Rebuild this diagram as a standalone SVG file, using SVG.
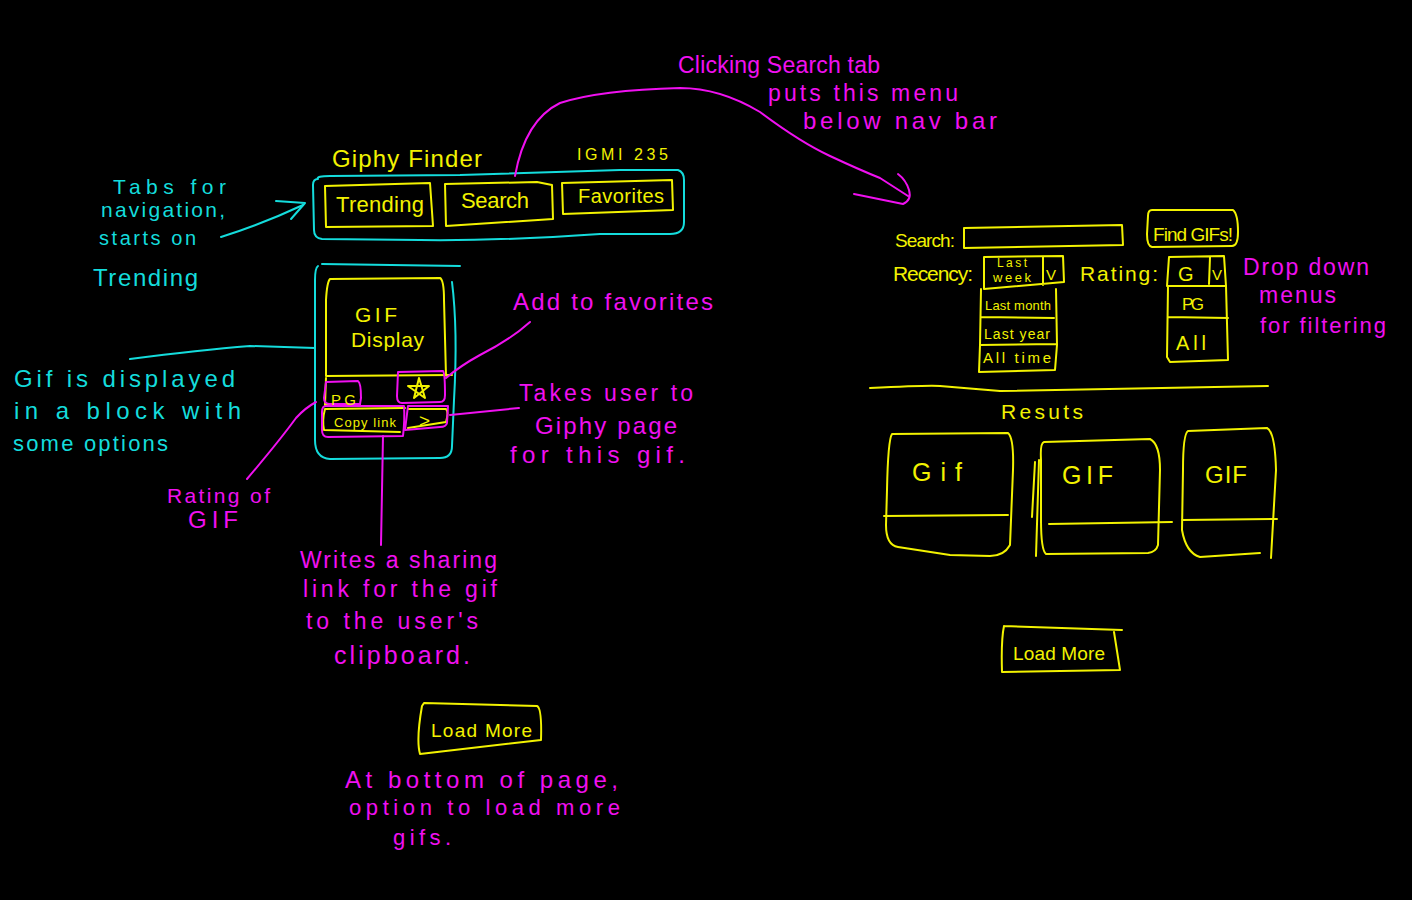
<svg xmlns="http://www.w3.org/2000/svg" width="1412" height="900" viewBox="0 0 1412 900">
<style>
.y{stroke:#f2f200;fill:none;stroke-width:2;stroke-linecap:round;stroke-linejoin:round}
.c{stroke:#14dcdc;fill:none;stroke-width:2;stroke-linecap:round;stroke-linejoin:round}
.m{stroke:#f010f0;fill:none;stroke-width:2;stroke-linecap:round;stroke-linejoin:round}
text{font-family:"Liberation Sans","DejaVu Sans",sans-serif}
.ty{fill:#f2f200}
.tc{fill:#14dcdc}
.tm{fill:#f010f0}
</style>
<rect x="0" y="0" width="1412" height="900" fill="#000"/>

<!-- left mockup -->
<g id="title">
<text class="ty" x="332" y="167" font-size="24" textLength="150">Giphy Finder</text>
<text class="ty" x="577" y="160" font-size="16" textLength="91">IGMI 235</text>
</g>
<g id="navbar">
<path class="c" d="M318,179 Q316,176 330,176 L460,175 Q560,172 620,170 L678,170 Q684,172 684,180 L684,222 Q684,234 670,234 L600,234 Q500,241 420,240 L322,239 Q314,238 314,230 L313,185 Q313,179 318,179 Z"/>
</g>
<g id="tab-trending">
<path class="y" d="M325,186 L430,183 L433,226 L326,227 Z"/>
<text class="ty" x="336" y="212" font-size="22" textLength="88">Trending</text>
</g>
<g id="tab-search">
<path class="y" d="M445,184 L537,182 L552,185 L553,219 L446,226 Z"/>
<text class="ty" x="461" y="208" font-size="22" textLength="68">Search</text>
</g>
<g id="tab-favorites">
<path class="y" d="M562,183 L672,180 L673,210 L563,214 Z"/>
<text class="ty" x="578" y="203" font-size="20" textLength="86">Favorites</text>
</g>

<g id="gif-card">
<path class="c" d="M322,264 L460,266 M318,266 Q315,268 315,280 L315,440 Q315,458 330,459 L440,458 Q452,458 452,446 L454,400 Q458,330 452,282"/>
<path class="y" d="M330,279 L440,278 Q444,280 444,300 L446,376 M330,279 Q327,282 326,300 L326,376 L452,375"/>
<text class="ty" x="355" y="322" font-size="21" textLength="42">GIF</text>
<text class="ty" x="351" y="347" font-size="21" textLength="73">Display</text>
</g>
<g id="pg-badge">
<path class="y" d="M326,378 L325,405 L360,404"/>
<path class="m" d="M326,382 L358,381 Q361,383 361,398 L360,404 L330,404 Q324,404 324,398 Z"/>
<text class="ty" x="331" y="405" font-size="15" textLength="25">PG</text>
</g>
<g id="fav-button">
<path class="m" d="M398,372 L443,371 Q445,373 445,395 Q445,402 440,402 L402,403 Q397,403 397,396 Z"/>
<path class="y" d="M419,378 L414,398 L429,386 L408,386 L425,398 Z"/>
</g>
<g id="copy-link">
<path class="y" d="M325,409 L405,408 M325,409 Q322,420 324,430 L400,432"/>
<path class="m" d="M326,406 L404,406 Q405,420 403,436 L328,437 Q322,437 322,430 L322,412 Q322,406 326,406 Z"/>
<text class="ty" x="334" y="427" font-size="13" textLength="62">Copy link</text>
</g>
<g id="giphy-link">
<path class="y" d="M408,409 L446,409 Q449,412 446,422 L408,428"/>
<path class="m" d="M408,406 L448,406 L447,423 Q446,427 440,427 L405,430 Z"/>
<text class="ty" x="419" y="427" font-size="19">&gt;</text>
</g>

<g id="load-more-left">
<path class="y" d="M424,703 L537,706 Q542,708 541,740 L420,754 Q416,740 422,706 Z"/>
<text class="ty" x="431" y="737" font-size="19" textLength="101">Load More</text>
</g>

<!-- annotations left -->
<g id="note-tabs">
<text class="tc" x="113" y="194" font-size="21" textLength="113">Tabs for</text>
<text class="tc" x="101" y="217" font-size="21" textLength="124">navigation,</text>
<text class="tc" x="99" y="245" font-size="20" textLength="97">starts on</text>
<text class="tc" x="93" y="286" font-size="24" textLength="105">Trending</text>
</g>
<g id="note-gif-block">
<text class="tc" x="14" y="387" font-size="24" textLength="221">Gif is displayed</text>
<text class="tc" x="14" y="419" font-size="24" textLength="227">in a block with</text>
<text class="tc" x="13" y="451" font-size="22" textLength="155">some options</text>
</g>
<g id="note-rating">
<text class="tm" x="167" y="503" font-size="21" textLength="103">Rating of</text>
<text class="tm" x="188" y="528" font-size="24" textLength="50">GIF</text>
</g>
<g id="note-copy">
<text class="tm" x="300" y="568" font-size="23" textLength="197">Writes a sharing</text>
<text class="tm" x="303" y="597" font-size="23" textLength="194">link for the gif</text>
<text class="tm" x="306" y="629" font-size="23" textLength="172">to the user's</text>
<text class="tm" x="334" y="664" font-size="25" textLength="136">clipboard.</text>
</g>
<g id="note-favorites">
<text class="tm" x="513" y="310" font-size="24" textLength="200">Add to favorites</text>
</g>
<g id="note-giphy">
<text class="tm" x="519" y="401" font-size="23" textLength="174">Takes user to</text>
<text class="tm" x="535" y="434" font-size="24" textLength="142">Giphy page</text>
<text class="tm" x="510" y="463" font-size="24" textLength="175">for this gif.</text>
</g>
<g id="note-loadmore">
<text class="tm" x="345" y="788" font-size="24" textLength="273">At bottom of page,</text>
<text class="tm" x="349" y="815" font-size="22" textLength="271">option to load more</text>
<text class="tm" x="393" y="845" font-size="22" textLength="58">gifs.</text>
</g>
<g id="note-search">
<text class="tm" x="678" y="73" font-size="23" textLength="202">Clicking Search tab</text>
<text class="tm" x="768" y="101" font-size="23" textLength="190">puts this menu</text>
<text class="tm" x="803" y="129" font-size="24" textLength="194">below nav bar</text>
</g>

<!-- right mockup -->
<g id="search-field">
<text class="ty" x="895" y="247" font-size="19" textLength="60">Search:</text>
<path class="y" d="M964,228 L1122,225 L1123,245 L964,248 Z"/>
</g>
<g id="find-button">
<path class="y" d="M1152,210 L1233,210 Q1238,214 1238,232 Q1238,246 1232,246 L1152,247 Q1147,246 1147,234 L1148,216 Q1148,210 1152,210 Z"/>
<text class="ty" x="1153" y="241" font-size="19" textLength="80">Find GIFs!</text>
</g>
<g id="recency-dropdown">
<text class="ty" x="893" y="281" font-size="21" textLength="80">Recency:</text>
<path class="y" d="M984,257 L1063,256 L1064,282 L984,289 Z M1043,257 L1043,285"/>
<text class="ty" x="997" y="267" font-size="12" textLength="30">Last</text>
<text class="ty" x="993" y="282" font-size="13" textLength="38">week</text>
<text class="ty" x="1046" y="280" font-size="15">V</text>
<path class="y" d="M981,289 L980,345 L979,372 L1055,370 L1057,345 L1056,289 M981,317 L1054,318 M980,345 L1057,344"/>
<text class="ty" x="985" y="310" font-size="13" textLength="66">Last month</text>
<text class="ty" x="984" y="339" font-size="14" textLength="66">Last year</text>
<text class="ty" x="983" y="363" font-size="15" textLength="68">All time</text>
</g>
<g id="rating-dropdown">
<text class="ty" x="1080" y="281" font-size="21" textLength="78">Rating:</text>
<path class="y" d="M1169,257 L1224,256 L1226,286 L1167,286 Z M1210,257 L1209,284"/>
<text class="ty" x="1178" y="281" font-size="20">G</text>
<text class="ty" x="1212" y="280" font-size="15">V</text>
<path class="y" d="M1168,286 L1167,357 L1170,362 L1228,360 L1226,286 M1168,317 L1228,318"/>
<text class="ty" x="1182" y="310" font-size="17" textLength="22">PG</text>
<text class="ty" x="1176" y="350" font-size="20" textLength="30">All</text>
</g>
<g id="note-dropdowns">
<text class="tm" x="1243" y="275" font-size="23" textLength="126">Drop down</text>
<text class="tm" x="1259" y="303" font-size="23" textLength="77">menus</text>
<text class="tm" x="1260" y="333" font-size="22" textLength="126">for filtering</text>
</g>
<g id="divider">
<path class="y" d="M870,388 Q930,385 940,386 L1000,391 L1268,386"/>
<text class="ty" x="1001" y="419" font-size="21" textLength="82">Resuts</text>
</g>
<g id="result-1">
<path class="y" d="M892,434 L1008,433 Q1014,438 1013,470 L1010,545 Q1004,556 990,556 L950,555 L898,547 Q886,545 886,525 L887,490 Q888,440 892,434 Z M884,516 L1008,515"/>
<text class="ty" x="912" y="481" font-size="25" textLength="50">Gif</text>
</g>
<g id="result-2">
<path class="y" d="M1044,442 L1150,439 Q1160,444 1160,470 L1158,545 Q1156,552 1148,553 L1046,554 Q1041,550 1041,520 L1041,460 Q1040,443 1044,442 Z M1049,524 L1172,522 M1032,517 L1035,462 M1039,460 L1036,556"/>
<text class="ty" x="1062" y="484" font-size="25" textLength="51">GIF</text>
</g>
<g id="result-3">
<path class="y" d="M1188,431 L1267,428 Q1275,432 1276,470 L1271,558 M1188,431 Q1183,434 1183,470 L1182,530 Q1186,553 1200,557 L1260,553 M1182,520 L1277,519"/>
<text class="ty" x="1205" y="483" font-size="24" textLength="42">GIF</text>
</g>
<g id="load-more-right">
<path class="y" d="M1004,626 L1122,630 M1004,626 Q1001,640 1002,672 L1120,670 L1114,632"/>
<text class="ty" x="1013" y="660" font-size="19" textLength="92">Load More</text>
</g>

<!-- connectors -->
<g id="connectors">
<path class="m" d="M515,176 Q525,120 560,103 Q600,90 680,88 Q720,88 760,112 Q800,142 830,156 Q860,170 880,178 L908,196"/>
<path class="m" d="M854,194 L903,204 Q912,200 909,190 Q906,180 898,174"/>
<path class="c" d="M221,237 Q260,225 303,205"/>
<path class="c" d="M276,201 L305,203 L291,219"/>
<path class="c" d="M130,359 Q200,350 250,346 L315,348"/>
<path class="m" d="M247,479 Q280,440 296,418 Q305,408 316,402"/>
<path class="m" d="M383,436 L381,545"/>
<path class="m" d="M530,322 Q510,340 480,355 Q460,366 446,378"/>
<path class="m" d="M450,415 L519,408"/>
</g>
</svg>
